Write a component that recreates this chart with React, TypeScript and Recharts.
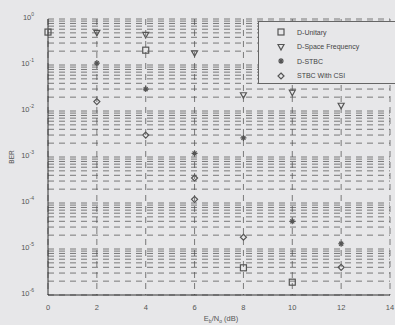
import React from 'react';
import { ScatterChart, Scatter, XAxis, YAxis, CartesianGrid } from 'recharts';

const xTicks = [0, 2, 4, 6, 8, 10, 12, 14];
const yTicks = [1e-6, 1e-5, 1e-4, 1e-3, 1e-2, 1e-1, 1];
const yExponents = ['-6', '-5', '-4', '-3', '-2', '-1', '0'];
const minorMultipliers = [2, 3, 4, 5, 6, 7, 8, 9];
const decades = [1e-6, 1e-5, 1e-4, 1e-3, 1e-2, 1e-1];

const seriesNames = ['D-Unitary', 'D-Space Frequency', 'D-STBC', 'STBC With CSI'];
const seriesShapes = ['square', 'downTriangle', 'star', 'diamond'];

const unitarySnr = [0, 4, 8, 10];
const unitaryBer = [0.52, 0.21, 3.9e-6, 1.9e-6];
const spaceFreqSnr = [2, 4, 6, 8, 10, 12];
const spaceFreqBer = [0.5, 0.45, 0.18, 0.022, 0.025, 0.013];
const dstbcSnr = [2, 4, 6, 8, 10, 12];
const dstbcBer = [0.11, 0.03, 1.2e-3, 2.6e-3, 4e-5, 1.3e-5];
const csiSnr = [2, 4, 6, 6, 8, 12];
const csiBer = [0.016, 0.003, 3.5e-4, 1.2e-4, 1.8e-5, 4e-6];

const toPoints = (xs: number[], ys: number[]) => xs.map((x, i) => ({ x, y: ys[i] }));
const seriesData = [
  toPoints(unitarySnr, unitaryBer),
  toPoints(spaceFreqSnr, spaceFreqBer),
  toPoints(dstbcSnr, dstbcBer),
  toPoints(csiSnr, csiBer),
];

const gridValues: number[] = [];
decades.forEach((d) => {
  gridValues.push(d);
  minorMultipliers.forEach((m) => gridValues.push(d * m));
});
gridValues.push(1);

const INK = '#555';
const BG = '#e7e7e9';
const FONT = 'Liberation Sans, Arial, sans-serif';

function Marker({ shape, cx, cy }: { shape: string; cx: number; cy: number }) {
  const s = 3;
  if (shape === 'square')
    return <rect x={cx - s} y={cy - s} width={2 * s} height={2 * s} fill="none" stroke={INK} strokeWidth={1.2} />;
  if (shape === 'downTriangle')
    return <path d={`M${cx - s},${cy - s + 0.5} L${cx + s},${cy - s + 0.5} L${cx},${cy + s} Z`} fill="none" stroke={INK} strokeWidth={1.2} />;
  if (shape === 'star')
    return (
      <path
        d={`M${cx - s},${cy} L${cx + s},${cy} M${cx},${cy - s} L${cx},${cy + s} M${cx - 2},${cy - 2} L${cx + 2},${cy + 2} M${cx - 2},${cy + 2} L${cx + 2},${cy - 2}`}
        stroke={INK}
        strokeWidth={1.2}
      />
    );
  return <path d={`M${cx},${cy - s} L${cx + s},${cy} L${cx},${cy + s} L${cx - s},${cy} Z`} fill="none" stroke={INK} strokeWidth={1.2} />;
}

const makeShape = (shape: string) => (props: any) => <Marker shape={shape} cx={props.cx} cy={props.cy} />;

function YTick(props: any) {
  const { x, y, payload, index } = props;
  const idx = yTicks.indexOf(payload.value);
  const exp = idx >= 0 ? yExponents[idx] : yExponents[index];
  return (
    <text x={x - 6} y={y + 1} textAnchor="end" fill={INK} fontSize={7.5} fontFamily={FONT}>
      10
      <tspan dy={-4} fontSize={5}>{exp}</tspan>
    </text>
  );
}

function XTitle(props: any) {
  const vb = props.viewBox || {};
  const cx = (vb.x ?? 48) + (vb.width ?? 342) / 2 + 2;
  return (
    <text x={cx} y={321} textAnchor="middle" fill={INK} fontSize={7.5} fontFamily={FONT}>
      E<tspan dy={2} fontSize={5}>b</tspan>
      <tspan dy={-2}>/N</tspan>
      <tspan dy={2} fontSize={5}>o</tspan>
      <tspan dy={-2}> (dB)</tspan>
    </text>
  );
}

function YTitle(props: any) {
  const vb = props.viewBox || {};
  const cy = (vb.y ?? 19) + (vb.height ?? 276) / 2;
  return (
    <text x={14} y={cy} transform={`rotate(-90 14 ${cy})`} textAnchor="middle" fill={INK} fontSize={6.5} fontFamily={FONT}>
      BER
    </text>
  );
}

function horizontalGen(props: any) {
  const yAxis = props?.yAxis;
  const off = props?.offset || { top: 19, height: 276 };
  return gridValues.map((v) => {
    if (yAxis && typeof yAxis.scale === 'function') return yAxis.scale(v);
    return off.top + (off.height * -Math.log10(v)) / 6;
  });
}

function LegendBox() {
  return (
    <div
      style={{
        position: 'absolute',
        left: 258,
        top: 21,
        width: 142,
        height: 63,
        border: '1px solid #666',
        background: BG,
        boxSizing: 'border-box',
        paddingTop: 3,
        fontFamily: FONT,
        fontSize: 7,
        color: '#444',
      }}
    >
      {seriesNames.map((n, i) => (
        <div key={n} style={{ display: 'flex', alignItems: 'center', height: 14.5 }}>
          <svg width={38} height={10} style={{ display: 'block' }}>
            <Marker shape={seriesShapes[i]} cx={22} cy={5} />
          </svg>
          <span>{n}</span>
        </div>
      ))}
    </div>
  );
}

export default function App() {
  return (
    <div style={{ position: 'absolute', left: 0, top: 0, width: 395, height: 325, background: BG, overflow: 'hidden' }}>
      <ScatterChart width={400} height={325} margin={{ top: 19, right: 10, bottom: 0, left: 18 }}>
        <CartesianGrid
          horizontalCoordinatesGenerator={horizontalGen}
          verticalValues={xTicks}
          stroke="#4a4a4a"
          strokeOpacity={0.7}
          strokeDasharray="6 5"
          strokeWidth={1}
        />
        <XAxis
          type="number"
          dataKey="x"
          domain={[0, 14]}
          ticks={xTicks}
          height={30}
          stroke="#333"
          tickLine={false}
          tick={{ fill: INK, fontSize: 7.5, fontFamily: FONT }}
          tickMargin={4}
          label={<XTitle />}
        />
        <YAxis
          type="number"
          dataKey="y"
          scale="log"
          domain={[1e-6, 1]}
          ticks={yTicks}
          allowDataOverflow
          width={30}
          stroke="#333"
          tickLine={false}
          tick={<YTick />}
          label={<YTitle />}
        />
        {seriesData.map((d, i) => (
          <Scatter key={seriesNames[i]} name={seriesNames[i]} data={d} shape={makeShape(seriesShapes[i])} isAnimationActive={false} />
        ))}
      </ScatterChart>
      <LegendBox />
    </div>
  );
}
